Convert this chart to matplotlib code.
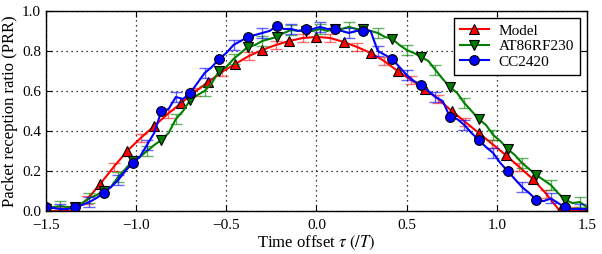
import numpy as np
import matplotlib
matplotlib.use('Agg')
import matplotlib.pyplot as plt

plt.rcParams['font.family'] = ['Liberation Serif', 'DejaVu Serif']
plt.rcParams['mathtext.fontset'] = 'stix'
plt.rcParams['axes.unicode_minus'] = True

# model curve, sampled every 0.075 T
model_x = np.linspace(-1.5, 1.5, 41)
model_prr = [0.0, 0.0, 0.0, 0.055, 0.135, 0.22, 0.30, 0.365, 0.425, 0.485,
             0.54, 0.595, 0.645, 0.695, 0.735, 0.775, 0.805, 0.83, 0.85, 0.865,
             0.87, 0.865, 0.845, 0.82, 0.79, 0.75, 0.70, 0.655, 0.61, 0.56,
             0.50, 0.445, 0.39, 0.335, 0.28, 0.22, 0.16, 0.085, 0.0, 0.0, 0.0]
model_err = 0.02

# measurements, sampled every 0.04 T
meas_x = np.linspace(-1.5, 1.5, 76)
at86_prr = [0.01, 0.02, 0.025, 0.02, 0.02, 0.04, 0.065, 0.08, 0.10, 0.12,
            0.17, 0.21, 0.25, 0.27, 0.30, 0.33, 0.355, 0.39, 0.46, 0.50,
            0.555, 0.58, 0.60, 0.64, 0.70, 0.72, 0.76, 0.79, 0.82, 0.83,
            0.85, 0.86, 0.87, 0.89, 0.905, 0.90, 0.90, 0.90, 0.91, 0.90,
            0.91, 0.91, 0.92, 0.91, 0.91, 0.90, 0.89, 0.87, 0.86, 0.83,
            0.805, 0.79, 0.77, 0.75, 0.705, 0.66, 0.62, 0.59, 0.54, 0.50,
            0.46, 0.43, 0.38, 0.35, 0.31, 0.28, 0.24, 0.21, 0.18, 0.155,
            0.13, 0.09, 0.055, 0.04, 0.045, 0.02]
at86_err = 0.025

cc2420_prr = [0.02, 0.015, 0.01, 0.01, 0.02, 0.03, 0.045, 0.065, 0.09, 0.12,
              0.155, 0.20, 0.24, 0.27, 0.33, 0.39, 0.50, 0.51, 0.57, 0.56,
              0.59, 0.64, 0.69, 0.72, 0.76, 0.79, 0.83, 0.85, 0.87, 0.88,
              0.89, 0.90, 0.925, 0.91, 0.91, 0.90, 0.91, 0.91, 0.92, 0.91,
              0.91, 0.90, 0.89, 0.90, 0.90, 0.90, 0.80, 0.78, 0.76, 0.72,
              0.68, 0.65, 0.63, 0.60, 0.57, 0.55, 0.47, 0.46, 0.43, 0.39,
              0.355, 0.32, 0.29, 0.24, 0.20, 0.16, 0.12, 0.09, 0.055, 0.05,
              0.063, 0.04, 0.018, 0.01, 0.01, 0.01]
cc2420_err = 0.025

fig, ax = plt.subplots(figsize=(6.02, 2.54), dpi=100)
fig.subplots_adjust(left=0.0764, right=0.975, bottom=0.169, top=0.957)

# model
ax.errorbar(model_x, model_prr, yerr=model_err, fmt='none', ecolor='r',
            alpha=0.55, capsize=4, elinewidth=1, errorevery=(1, 2))
ax.plot(model_x, model_prr, color='r', lw=1.5, marker='^', ms=7,
        markevery=(0, 2), mec='k', mew=0.8, label='Model')

# AT86RF230
ax.errorbar(meas_x, at86_prr, yerr=at86_err, fmt='none', ecolor='g',
            alpha=0.6, capsize=4, elinewidth=1, errorevery=(2, 4))
ax.plot(meas_x, at86_prr, color='g', lw=1.5, marker='v', ms=7,
        markevery=(0, 4), mec='k', mew=0.8, label='AT86RF230')

# CC2420
ax.errorbar(meas_x, cc2420_prr, yerr=cc2420_err, fmt='none', ecolor='b',
            alpha=0.6, capsize=4, elinewidth=1, errorevery=(2, 4))
ax.plot(meas_x, cc2420_prr, color='b', lw=1.5, marker='o', ms=7,
        markevery=(0, 4), mec='k', mew=0.8, label='CC2420')

ax.set_xlim(-1.5, 1.5)
ax.set_ylim(0, 1.0)
ax.set_xticks([-1.5, -1.0, -0.5, 0.0, 0.5, 1.0, 1.5])
ax.set_yticks([0.0, 0.2, 0.4, 0.6, 0.8, 1.0])
ax.tick_params(direction='in', top=True, right=True, length=4, labelsize=11)
ax.tick_params(axis='x', pad=6)
ax.grid(True, color='k', linestyle=(0, (1, 3)), linewidth=0.9)
for s in ax.spines.values():
    s.set_linewidth(1.0)

ax.set_xlabel(r'Time offset $\tau$ $(/T)$', fontsize=12, labelpad=1)
ax.set_ylabel('Packet reception ratio (PRR)', fontsize=12, labelpad=3)

leg = ax.legend(loc='upper right', numpoints=1, fancybox=False, edgecolor='k',
                framealpha=1, fontsize=11, borderaxespad=0.45, handlelength=1.9,
                handletextpad=0.65, labelspacing=0.12, borderpad=0.4)
leg.get_frame().set_linewidth(1.0)

plt.savefig('out.png', dpi=100)
